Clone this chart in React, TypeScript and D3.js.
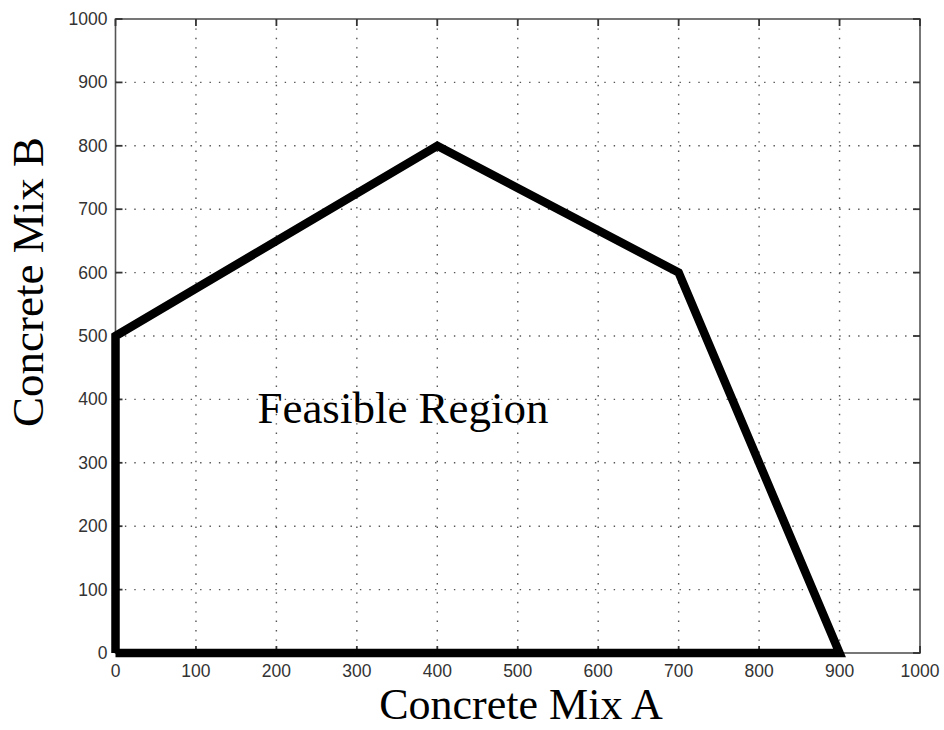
import React from "react";
import * as d3 from "d3";

const regionX = [0, 0, 400, 700, 900, 0];
const regionY = [0, 500, 800, 600, 0, 0];
const xTicks = [0, 100, 200, 300, 400, 500, 600, 700, 800, 900, 1000];
const yTicks = [0, 100, 200, 300, 400, 500, 600, 700, 800, 900, 1000];
const xLabel = "Concrete Mix A";
const yLabel = "Concrete Mix B";
const regionLabel = "Feasible Region";

export default function App() {
  const W = 944, H = 730;
  const L = 115.5, R = 920, T = 19, B = 653;
  const x = d3.scaleLinear().domain([0, 1000]).range([L, R]);
  const y = d3.scaleLinear().domain([0, 1000]).range([B, T]);
  const pts: [number, number][] = regionX.map((v, i) => [v, regionY[i]]);
  const line = d3.line<[number, number]>().x(d => x(d[0])).y(d => y(d[1]));
  const tickFont = "Liberation Sans, Arial, sans-serif";
  const serif = "Liberation Serif, Times New Roman, serif";
  return (
    <svg width={W} height={H} style={{ position: "absolute", left: 0, top: 0, background: "#fff" }}>
      <rect x={0} y={0} width={W} height={H} fill="#fff" />
      {xTicks.slice(1, -1).map(t => (
        <line key={"gx" + t} x1={x(t)} x2={x(t)} y1={T} y2={B} stroke="#555" strokeWidth={1.4} strokeDasharray="1.4 8" />
      ))}
      {yTicks.slice(1, -1).map(t => (
        <line key={"gy" + t} x1={L} x2={R} y1={y(t)} y2={y(t)} stroke="#555" strokeWidth={1.4} strokeDasharray="1.4 8" />
      ))}
      <rect x={L} y={T} width={R - L} height={B - T} fill="none" stroke="#555" strokeWidth={1.6} />
      {xTicks.map(t => (
        <g key={"tx" + t}>
          <line x1={x(t)} x2={x(t)} y1={B} y2={B - 7} stroke="#333" strokeWidth={1.8} />
          <line x1={x(t)} x2={x(t)} y1={T} y2={T + 7} stroke="#333" strokeWidth={1.8} />
          <text x={x(t)} y={B + 24} textAnchor="middle" fontFamily={tickFont} fontSize={17.5} fill="#333">{t}</text>
        </g>
      ))}
      {yTicks.map(t => (
        <g key={"ty" + t}>
          <line x1={L} x2={L + 7} y1={y(t)} y2={y(t)} stroke="#333" strokeWidth={1.8} />
          <line x1={R} x2={R - 7} y1={y(t)} y2={y(t)} stroke="#333" strokeWidth={1.8} />
          <text x={L - 8} y={y(t) + 6} textAnchor="end" fontFamily={tickFont} fontSize={17.5} fill="#333">{t}</text>
        </g>
      ))}
      <path d={line(pts) || ""} fill="none" stroke="#000" strokeWidth={8.5} strokeLinejoin="miter" />
      <text x={403} y={423} textAnchor="middle" fontFamily={serif} fontSize={45} fill="#000">{regionLabel}</text>
      <text x={521} y={719} textAnchor="middle" fontFamily={serif} fontSize={44} fill="#000">{xLabel}</text>
      <text transform={`translate(43,282) rotate(-90)`} textAnchor="middle" fontFamily={serif} fontSize={45} fill="#000">{yLabel}</text>
    </svg>
  );
}
